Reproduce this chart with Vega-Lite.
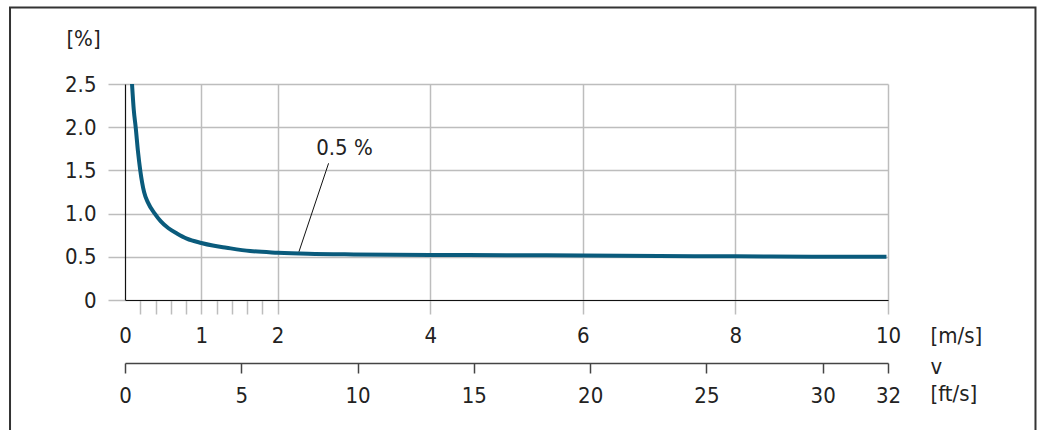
{
  "$schema": "https://vega.github.io/schema/vega-lite/v6.json",
  "width": 763,
  "height": 216,
  "autosize": {"type": "none"},
  "padding": {"left": 125, "top": 84, "right": 150, "bottom": 130},
  "background": "white",
  "config": {
    "view": {"stroke": null},
    "font": "DejaVu Sans Condensed",
    "axis": {"labelFont": "DejaVu Sans Condensed", "titleFont": "DejaVu Sans Condensed", "labelFontSize": 22, "titleFontSize": 22, "labelColor": "#222", "titleColor": "#222", "titleFontWeight": "normal", "labelFlush": false, "labelOverlap": false}
  },
  "datasets": {
    "curve": [
      {"v": 0.092, "p": 2.5},
      {"v": 0.115, "p": 2.2},
      {"v": 0.14, "p": 2.0},
      {"v": 0.17, "p": 1.72},
      {"v": 0.2, "p": 1.5},
      {"v": 0.25, "p": 1.25},
      {"v": 0.3, "p": 1.13},
      {"v": 0.39, "p": 1.0},
      {"v": 0.47, "p": 0.91},
      {"v": 0.57, "p": 0.83},
      {"v": 0.68, "p": 0.77},
      {"v": 0.81, "p": 0.71},
      {"v": 1.0, "p": 0.66},
      {"v": 1.15, "p": 0.63},
      {"v": 1.33, "p": 0.605},
      {"v": 1.64, "p": 0.567},
      {"v": 2.0, "p": 0.548},
      {"v": 2.4, "p": 0.535},
      {"v": 3.0, "p": 0.527},
      {"v": 4.0, "p": 0.522},
      {"v": 5.0, "p": 0.519},
      {"v": 6.0, "p": 0.515},
      {"v": 7.0, "p": 0.51},
      {"v": 8.0, "p": 0.505},
      {"v": 9.0, "p": 0.502},
      {"v": 9.98, "p": 0.5}
    ],
    "frame": [{"v": -1.507, "v2": 11.933, "p": 3.385, "p2": -1.9}],
    "leader": [{"v": 2.668, "v2": 2.28, "p": 1.582, "p2": 0.559}],
    "label": [{"v": 2.505, "p": 1.76, "t": "0.5 %"}],
    "ft": [{"ft": 0}, {"ft": 32.808}]
  },
  "layer": [
    {
      "layer": [
        {
          "data": {"name": "frame"},
          "mark": {"type": "rect", "fillOpacity": 0, "stroke": "#333", "strokeWidth": 2, "clip": false},
          "encoding": {
            "x": {"field": "v", "type": "quantitative", "scale": {"domain": [0, 10], "nice": false, "zero": false}},
            "x2": {"field": "v2"},
            "y": {"field": "p", "type": "quantitative", "scale": {"domain": [0, 2.5], "nice": false}},
            "y2": {"field": "p2"}
          }
        },
        {
          "data": {"name": "curve"},
          "mark": {"type": "line", "color": "#0a5b7c", "strokeWidth": 4, "interpolate": "monotone"},
          "encoding": {
            "x": {
              "field": "v", "type": "quantitative",
              "scale": {"domain": [0, 10], "nice": false, "zero": false},
              "axis": {
                "orient": "bottom",
                "values": [0, 0.2, 0.4, 0.6, 0.8, 1, 1.2, 1.4, 1.6, 1.8, 2, 4, 6, 8, 10],
                "labelExpr": "(datum.value == 0 || datum.value == 1 || datum.value == 2 || datum.value >= 4) ? format(datum.value, 'd') : ''",
                "domainColor": "#111",
                "domainWidth": 1.2,
                "tickColor": "#bdbdbd",
                "tickWidth": 1.5,
                "tickSize": 14,
                "tickOpacity": {"condition": {"test": "datum.value == 0", "value": 0}, "value": 1},
                "grid": true,
                "gridColor": "#bdbdbd",
                "gridWidth": 1.5,
                "gridOpacity": {"condition": {"test": "datum.value >= 1 && datum.value == round(datum.value)", "value": 1}, "value": 0},
                "labelPadding": 11,
                "title": "[m/s]",
                "titleX": 805,
                "titleY": 35,
                "titleAlign": "left",
                "titleBaseline": "middle",
                "titleAngle": 0
              }
            },
            "y": {
              "field": "p", "type": "quantitative",
              "scale": {"domain": [0, 2.5], "nice": false},
              "axis": {
                "values": [0, 0.5, 1, 1.5, 2, 2.5],
                "labelExpr": "datum.value == 0 ? '0' : format(datum.value, '.1f')",
                "domainColor": "#111",
                "domainWidth": 1.2,
                "tickColor": "#bdbdbd",
                "tickWidth": 1.5,
                "tickSize": 17,
                "grid": true,
                "gridColor": "#bdbdbd",
                "gridWidth": 1.5,
                "labelPadding": 12,
                "title": "[%]",
                "titleX": -42,
                "titleY": -46,
                "titleAngle": 0,
                "titleAlign": "center",
                "titleBaseline": "middle"
              }
            }
          }
        },
        {
          "data": {"name": "leader"},
          "mark": {"type": "rule", "color": "#111", "strokeWidth": 1},
          "encoding": {
            "x": {"field": "v", "type": "quantitative"},
            "x2": {"field": "v2"},
            "y": {"field": "p", "type": "quantitative"},
            "y2": {"field": "p2"}
          }
        },
        {
          "data": {"name": "label"},
          "mark": {"type": "text", "align": "left", "baseline": "middle", "fontSize": 22, "font": "DejaVu Sans Condensed", "color": "#222"},
          "encoding": {
            "x": {"field": "v", "type": "quantitative"},
            "y": {"field": "p", "type": "quantitative"},
            "text": {"field": "t"}
          }
        }
      ]
    },
    {
      "data": {"name": "ft"},
      "mark": {"type": "point", "opacity": 0},
      "encoding": {
        "x": {
          "field": "ft", "type": "quantitative",
          "scale": {"domain": [0, 32.808], "nice": false, "zero": false},
          "axis": {
            "orient": "bottom",
            "offset": 63,
            "values": [0, 5, 10, 15, 20, 25, 30, 32.808],
            "labelExpr": "datum.value > 31 ? '32' : format(datum.value, 'd')",
            "domainColor": "#444",
            "domainWidth": 1.5,
            "tickColor": "#444",
            "tickWidth": 1.5,
            "tickSize": 10,
            "grid": false,
            "labelPadding": 12,
            "title": ["v", "[ft/s]"],
            "titleX": 805,
            "titleY": -7,
            "titleAlign": "left",
            "titleBaseline": "top",
            "titleLineHeight": 27,
            "titleAngle": 0
          }
        }
      }
    }
  ],
  "resolve": {"scale": {"x": "independent"}}
}
